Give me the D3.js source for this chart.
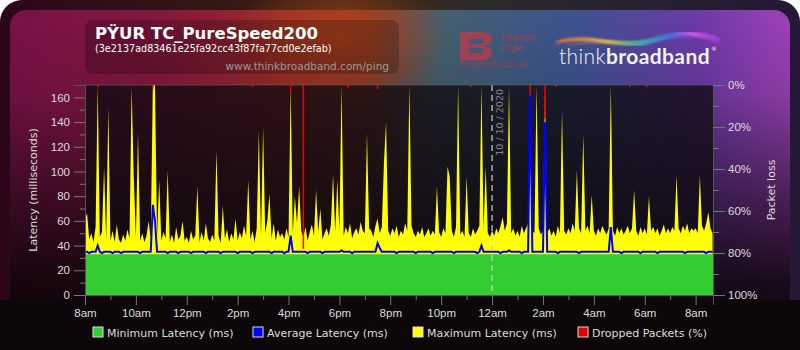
<!DOCTYPE HTML>
<html>
  <head>
    <title>Broadband Quality Monitor</title>
    <style>
      body { margin: 0; background: #fff; }
      svg { display: block; font-family: 'DejaVu Sans', sans-serif; }
      .tick text { fill: #ddd; font-size: 11px; }
      .tick line { stroke: #777; }
      .domain { stroke: #555; }
    </style>
  </head>
  <body>
    <svg width="800" height="350"></svg>
    <script src="https://cdn.jsdelivr.net/npm/d3@7"></script>
    <script>
      // one sample every 5 minutes from 8am 9 Oct 2020 (12 per row = 1 hour)
      var maxLatency = [
        62, 66, 45, 50, 43, 55, 170, 47, 51, 104, 45, 152,
        44, 52, 43, 57, 45, 42, 49, 44, 53, 46, 168, 96,
        47, 132, 44, 50, 43, 48, 60, 45, 170, 170, 48, 93,
        44, 51, 46, 101, 43, 49, 42, 55, 45, 48, 60, 44,
        47, 42, 52, 45, 48, 88, 43, 51, 44, 58, 46, 43,
        49, 44, 117, 48, 42, 72, 46, 53, 43, 50, 45, 62,
        44, 51, 46, 56, 48, 93, 45, 52, 43, 54, 133, 48,
        136, 50, 60, 82, 46, 58, 44, 53, 47, 50, 45, 54,
        47, 170, 50, 80, 58, 88, 52, 47, 55, 44, 51, 57,
        48, 85, 51, 70, 45, 50, 54, 48, 57, 98, 51, 93,
        52, 170, 48, 55, 50, 58, 46, 51, 54, 49, 59, 52,
        50, 131, 54, 52, 47, 56, 62, 50, 55, 107, 140, 52,
        48, 54, 50, 56, 47, 52, 49, 58, 52, 170, 56, 50,
        47, 52, 49, 55, 47, 50, 54, 48, 52, 49, 88, 51,
        47, 54, 50, 104, 96, 52, 47, 55, 170, 49, 52, 47,
        96, 50, 47, 54, 49, 52, 56, 170, 54, 104, 50, 47,
        52, 48, 54, 50, 56, 63, 52, 58, 170, 50, 54, 48,
        52, 47, 56, 50, 54, 58, 170, 52, 50, 170, 54, 49,
        52, 170, 50, 54, 48, 52, 47, 56, 50, 150, 52, 49,
        54, 50, 58, 52, 101, 54, 50, 130, 52, 56, 50, 81,
        52, 48, 54, 50, 56, 52, 49, 54, 170, 52, 48, 55,
        50, 54, 49, 52, 56, 50, 54, 85, 52, 48, 55, 50,
        54, 49, 80, 52, 55, 50, 54, 48, 52, 57, 50, 54,
        50, 55, 52, 97, 54, 50, 56, 52, 58, 50, 54, 52,
        54, 50, 97, 56, 52, 58, 67, 54, 50
      ];

      var avgLatency = [
        35, 35, 34, 35, 35, 35, 40, 35, 34, 35, 35, 35,
        35, 34, 35, 35, 35, 34, 35, 35, 35, 35, 35, 35,
        35, 35, 34, 35, 35, 35, 35, 35, 73, 60, 35, 35,
        35, 35, 35, 34, 35, 35, 35, 35, 34, 35, 35, 35,
        35, 35, 34, 35, 35, 35, 35, 35, 35, 34, 35, 35,
        35, 35, 35, 35, 34, 35, 35, 35, 35, 35, 35, 35,
        34, 35, 35, 35, 35, 35, 35, 34, 35, 35, 35, 35,
        35, 35, 35, 35, 34, 35, 35, 35, 35, 35, 34, 35,
        35, 48, 35, 35, 35, 35, 35, 35, 35, 34, 35, 35,
        35, 35, 35, 35, 34, 35, 35, 35, 35, 35, 35, 35,
        35, 36, 35, 35, 35, 35, 34, 35, 35, 35, 35, 35,
        35, 35, 35, 35, 35, 35, 42, 38, 35, 35, 35, 35,
        35, 35, 35, 34, 35, 35, 35, 35, 35, 35, 35, 35,
        34, 35, 35, 35, 35, 35, 35, 35, 34, 35, 35, 35,
        35, 35, 35, 35, 35, 35, 34, 35, 35, 35, 35, 35,
        35, 35, 35, 35, 35, 34, 35, 40, 35, 35, 35, 35,
        35, 35, 35, 35, 34, 35, 35, 35, 36, 35, 35, 35,
        35, 35, 34, 35, 35, 35, 165, 35, 35, 35, 35, 35,
        35, 140, 35, 35, 35, 35, 35, 34, 35, 35, 35, 35,
        35, 35, 35, 35, 35, 34, 35, 35, 35, 35, 35, 35,
        35, 35, 35, 35, 35, 35, 35, 35, 55, 35, 35, 35,
        35, 34, 35, 35, 35, 35, 35, 35, 35, 35, 34, 35,
        35, 35, 35, 35, 35, 35, 34, 35, 35, 35, 35, 35,
        35, 35, 35, 35, 35, 35, 35, 34, 35, 35, 35, 35,
        35, 35, 35, 35, 35, 34, 35, 35, 35
      ];

      // hourly minimum latency
      var minLatency = [33, 33, 33, 33, 33, 33, 33, 33, 33, 33, 33, 33, 33,
                        33, 33, 33, 33, 33, 33, 33, 33, 33, 33, 33, 33, 33];

      // dropped packets: sample index and percent lost
      var dropIndex = [6, 32, 79, 97, 103, 124, 138, 182, 210, 217, 222, 257, 265];
      var dropPct   = [1, 2, 1, 4, 78, 1.5, 2, 1, 5, 16, 1, 1, 1];

      var yTicks = [0, 20, 40, 60, 80, 100, 120, 140, 160];
      var pctTicks = [0, 20, 40, 60, 80, 100];
      var legendLabels = ['Minimum Latency (ms)', 'Average Latency (ms)', 'Maximum Latency (ms)', 'Dropped Packets (%)'];
      var legendColors = ['#33cc33', '#0000ff', '#ffff00', '#dd0000'];

      var start = new Date(2020, 9, 9, 8, 0);
      var end = new Date(2020, 9, 10, 8, 41);
      var midnight = new Date(2020, 9, 10, 0, 0);
      function sampleTime(i) { return new Date(start.getTime() + i * 5 * 60000); }
      function hourTime(i) { return new Date(start.getTime() + i * 3600000); }

      var svg = d3.select('svg');
      var defs = svg.append('defs');
      var plot = { left: 85, right: 713, top: 85, bottom: 295 };

      // ---------- background ----------
      var frameG = defs.append('linearGradient').attr('id', 'frameG');
      [['0', '#2c0618'], ['0.45', '#3a2412'], ['0.6', '#2a2a2a'], ['1', '#241836']].forEach(function(s) {
        frameG.append('stop').attr('offset', s[0]).attr('stop-color', s[1]);
      });
      var panelH = defs.append('linearGradient').attr('id', 'panelH');
      [['0', '#7a1248'], ['0.2', '#86183e'], ['0.36', '#9c2c26'], ['0.46', '#8a3a24'],
       ['0.55', '#46606e'], ['0.72', '#3c5490'], ['0.88', '#6c3aa8'], ['1', '#9e42b8']].forEach(function(s) {
        panelH.append('stop').attr('offset', s[0]).attr('stop-color', s[1]);
      });
      var panelV = defs.append('linearGradient').attr('id', 'panelV')
        .attr('x1', 0).attr('y1', 0).attr('x2', 0).attr('y2', 1);
      [['0', 0], ['0.25', 0.12], ['0.55', 0.55], ['0.8', 0.88], ['1', 1]].forEach(function(s) {
        panelV.append('stop').attr('offset', s[0]).attr('stop-color', '#080406').attr('stop-opacity', s[1]);
      });
      var glow = defs.append('radialGradient').attr('id', 'glow');
      glow.append('stop').attr('offset', '0').attr('stop-color', '#c04a1a').attr('stop-opacity', 0.7);
      glow.append('stop').attr('offset', '1').attr('stop-color', '#c04a1a').attr('stop-opacity', 0);

      svg.append('rect').attr('width', 800).attr('height', 350).attr('rx', 22)
        .style('fill', 'url(#frameG)');
      svg.append('rect').attr('x', 10).attr('y', 10).attr('width', 780).attr('height', 340).attr('rx', 16)
        .style('fill', 'url(#panelH)');
      svg.append('ellipse').attr('cx', 340).attr('cy', 35).attr('rx', 110).attr('ry', 60)
        .style('fill', 'url(#glow)');
      svg.append('rect').attr('x', 10).attr('y', 10).attr('width', 780).attr('height', 340)
        .style('fill', 'url(#panelV)');
      svg.append('rect').attr('x', 0).attr('y', 300).attr('width', 800).attr('height', 50)
        .style('fill', '#0c0709');

      // title box
      svg.append('rect').attr('x', 85).attr('y', 20).attr('width', 314).attr('height', 54).attr('rx', 8)
        .style('fill', '#000').style('opacity', 0.22);
      svg.append('text').attr('x', 95).attr('y', 39).text('PŸUR TC_PureSpeed200')
        .style('fill', '#fff').style('font-size', '16.5px').style('font-weight', 'bold');
      svg.append('text').attr('x', 95).attr('y', 52).text('(3e2137ad83461e25fa92cc43f87fa77cd0e2efab)')
        .style('fill', '#fff').style('font-size', '9.6px');
      svg.append('text').attr('x', 389).attr('y', 70).attr('text-anchor', 'end').text('www.thinkbroadband.com/ping')
        .style('fill', '#9a9a9a').style('font-size', '10.5px');

      // FireBrick logo
      var fb = svg.append('g').style('opacity', 0.7);
      fb.append('path').attr('d', 'M460,32 h22 a10,7 0 0 1 0,14 a10,7 0 0 1 0,14 h-22 z M469,39 v5 h12 a2.5,2.5 0 0 0 0,-5 z M469,48 v5 h12 a2.5,2.5 0 0 0 0,-5 z')
        .attr('fill-rule', 'evenodd').style('fill', '#c83848');
      fb.append('text').attr('x', 501).attr('y', 41).text('FB6000').style('fill', '#c83848').style('font-size', '9.5px');
      fb.append('text').attr('x', 501).attr('y', 52).text('CQM').style('fill', '#c83848').style('font-size', '9.5px');
      fb.append('text').attr('x', 459).attr('y', 67).text('FireBrick.co.uk').style('fill', '#c83848').style('font-size', '9.5px');

      // thinkbroadband logo
      var wave = defs.append('linearGradient').attr('id', 'wave');
      [['0', '#ff6a3a'], ['0.3', '#ffd040'], ['0.5', '#40e0a0'], ['0.7', '#4080ff'], ['0.85', '#ff60ff'], ['1', '#b040ff']].forEach(function(s) {
        wave.append('stop').attr('offset', s[0]).attr('stop-color', s[1]);
      });
      defs.append('filter').attr('id', 'blur').append('feGaussianBlur').attr('stdDeviation', 1.2);
      var tb = svg.append('g');
      ['M556,43 C590,30 620,52 650,42 S700,30 720,40', 'M560,41 C595,36 625,48 655,38 S700,36 718,42',
       'M565,45 C600,40 630,46 660,40 S705,38 716,38'].forEach(function(d, i) {
        tb.append('path').attr('d', d).style('fill', 'none').style('stroke', 'url(#wave)')
          .style('stroke-width', 3 - i).style('opacity', 0.7).attr('filter', 'url(#blur)');
      });
      var tbText = tb.append('text').attr('x', 559).attr('y', 64).style('fill', '#f2f2f2')
        .style('font-family', 'Lato, sans-serif').style('font-size', '21px').style('letter-spacing', '0.4px');
      tbText.append('tspan').text('think').style('font-weight', '300');
      tbText.append('tspan').text('broadband').style('font-weight', 'bold');
      tb.append('text').attr('x', 711).attr('y', 51).text('®').style('fill', '#eee').style('font-size', '6px');

      // ---------- scales ----------
      var x = d3.scaleTime().domain([start, end]).range([plot.left, plot.right]);
      var y = d3.scaleLinear().domain([0, 170]).range([plot.bottom, plot.top]);
      var yPct = d3.scaleLinear().domain([0, 100]).range([plot.top, plot.bottom]);

      // plot background
      svg.append('rect').attr('x', plot.left).attr('y', plot.top)
        .attr('width', plot.right - plot.left).attr('height', plot.bottom - plot.top)
        .style('fill', '#0e0a10').style('opacity', 0.76);

      defs.append('clipPath').attr('id', 'clip').append('rect')
        .attr('x', plot.left).attr('y', plot.top)
        .attr('width', plot.right - plot.left).attr('height', plot.bottom - plot.top);
      var chart = svg.append('g').attr('clip-path', 'url(#clip)');

      var maxArea = d3.area()
        .x(function(d, i) { return x(sampleTime(i)); })
        .y0(y(0))
        .y1(function(d) { return y(d); });
      chart.append('path').datum(maxLatency).attr('d', maxArea).style('fill', '#ffff00');

      var minArea = d3.area()
        .curve(d3.curveStepAfter)
        .x(function(d, i) { return x(hourTime(i)); })
        .y0(y(0))
        .y1(function(d) { return y(d); });
      chart.append('path').datum(minLatency).attr('d', minArea).style('fill', '#33cc33');

      var avgLine = d3.line()
        .x(function(d, i) { return x(sampleTime(i)); })
        .y(function(d) { return y(d); });
      chart.append('path').datum(avgLatency).attr('d', avgLine)
        .style('fill', 'none').style('stroke', '#0000ff').style('stroke-width', 2);

      chart.selectAll('.drop')
          .data(dropPct)
        .enter().append('rect')
          .attr('class', 'drop')
          .attr('x', function(d, i) { return x(sampleTime(dropIndex[i])) - 0.75; })
          .attr('y', yPct(0))
          .attr('width', 1.5)
          .attr('height', function(d) { return yPct(d) - yPct(0); })
          .style('fill', '#ee0000');

      // midnight marker
      svg.append('line').attr('x1', x(midnight)).attr('x2', x(midnight))
        .attr('y1', plot.top).attr('y2', plot.bottom)
        .style('stroke', '#ccc').style('stroke-width', 1.2).style('stroke-dasharray', '6,4');
      svg.append('text')
        .attr('transform', 'translate(' + (x(midnight) + 11) + ',' + (plot.top + 4) + ') rotate(-90)')
        .attr('text-anchor', 'end')
        .text('10 / 10 / 2020')
        .style('fill', '#888').style('font-size', '9.5px');

      // ---------- axes ----------
      var tick2h = function(d) { return (d.getHours() % 2 === 0) ? d3.timeFormat('%-I%p')(d).toLowerCase() : ''; };
      var xAxis = svg.append('g').attr('transform', 'translate(0,' + plot.bottom + ')')
        .call(d3.axisBottom(x).ticks(d3.timeHour.every(1)).tickFormat(tick2h).tickSize(10).tickPadding(4));
      xAxis.selectAll('.tick line').attr('y2', function(d) { return d.getHours() % 2 === 0 ? 10 : 5; });
      xAxis.selectAll('.tick text').style('font-size', '11.5px');

      var yAxis = svg.append('g').attr('transform', 'translate(' + plot.left + ',0)')
        .call(d3.axisLeft(y).tickValues(d3.range(0, 170, 10))
          .tickFormat(function(d) { return yTicks.indexOf(d) >= 0 ? d : ''; }).tickSize(11).tickPadding(4));
      yAxis.selectAll('.tick line').attr('x2', function(d) { return yTicks.indexOf(d) >= 0 ? -11 : -5; });
      yAxis.selectAll('.tick text').style('font-size', '11.5px');

      var pAxis = svg.append('g').attr('transform', 'translate(' + plot.right + ',0)')
        .call(d3.axisRight(yPct).tickValues(d3.range(0, 101, 10))
          .tickFormat(function(d) { return pctTicks.indexOf(d) >= 0 ? d + '%' : ''; }).tickSize(12).tickPadding(3));
      pAxis.selectAll('.tick line').attr('x2', function(d) { return pctTicks.indexOf(d) >= 0 ? 12 : 6; });
      pAxis.selectAll('.tick text').style('font-size', '11.5px');

      svg.append('line').attr('x1', plot.left).attr('x2', plot.right).attr('y1', plot.top).attr('y2', plot.top)
        .style('stroke', '#666').style('opacity', 0.6);

      svg.append('text').attr('transform', 'translate(37,190) rotate(-90)').attr('text-anchor', 'middle')
        .text('Latency (milliseconds)').style('fill', '#ddd').style('font-size', '11px');
      svg.append('text').attr('transform', 'translate(775,190) rotate(-90)').attr('text-anchor', 'middle')
        .text('Packet loss').style('fill', '#ddd').style('font-size', '11px');

      // ---------- legend ----------
      var legendX = [93, 253, 413, 578];
      var legend = svg.selectAll('.legend')
          .data(legendLabels)
        .enter().append('g')
          .attr('class', 'legend')
          .attr('transform', function(d, i) { return 'translate(' + legendX[i] + ',327)'; });
      legend.append('rect').attr('width', 10).attr('height', 10)
        .style('fill', function(d, i) { return legendColors[i]; })
        .style('stroke', '#ddd').style('stroke-width', 1);
      legend.append('text').attr('x', 14).attr('y', 9.5).text(function(d) { return d; })
        .style('fill', '#ddd').style('font-size', '11px');
    </script>
  </body>
</html>
